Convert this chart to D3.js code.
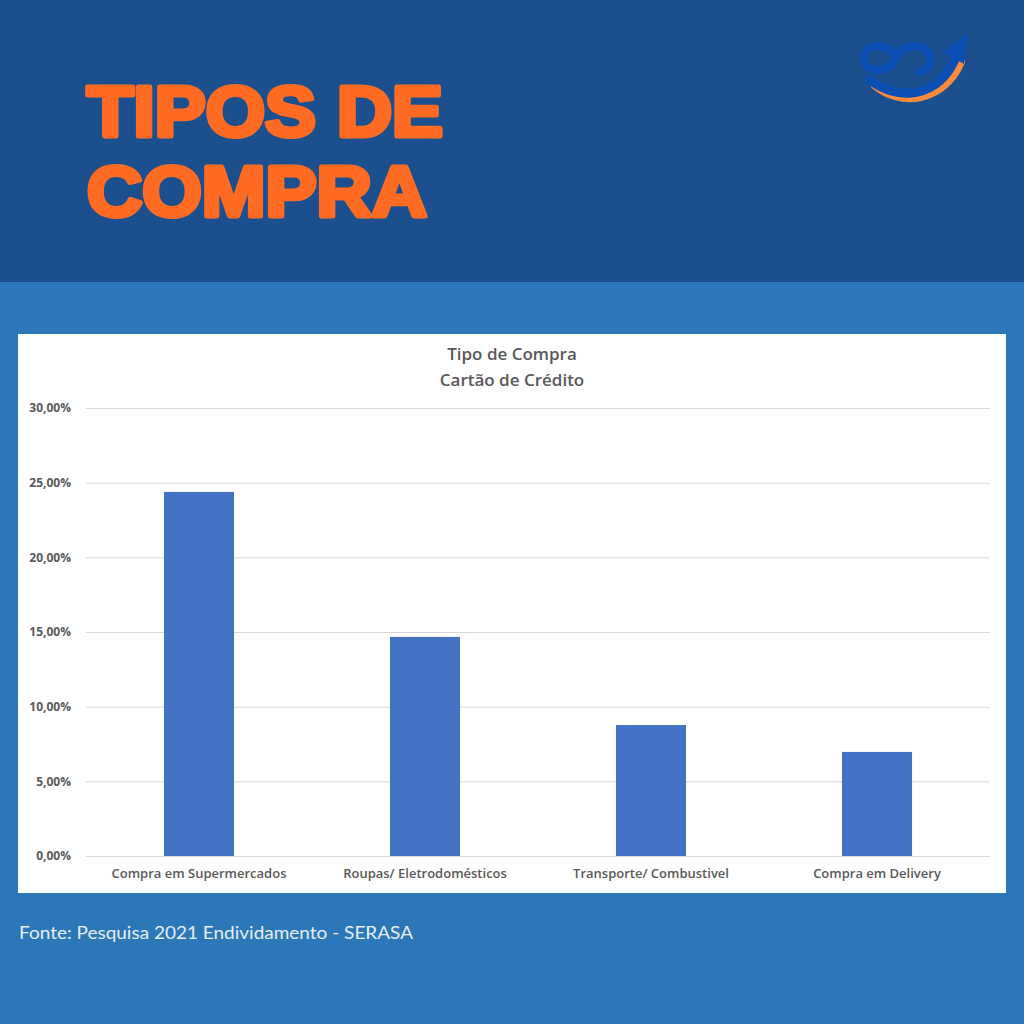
<!DOCTYPE html>
<html><head><meta charset="utf-8">
<script src="https://cdn.jsdelivr.net/npm/d3@7"></script>
<style>html,body{margin:0;padding:0;background:#2b77b8;}svg{display:block;}</style>
</head><body>
<script>
const categories = ["Compra em Supermercados", "Roupas/ Eletrodomésticos", "Transporte/ Combustivel", "Compra em Delivery"];
const values = [0.2438, 0.1467, 0.0877, 0.0697];
const yTicks = [0, 0.05, 0.10, 0.15, 0.20, 0.25, 0.30];
const headline = ["TIPOS DE", "COMPRA"];
const chartTitle = ["Tipo de Compra", "Cartão de Crédito"];
const source = "Fonte: Pesquisa 2021 Endividamento - SERASA";

const W = 1024, H = 1024;
const svg = d3.select("body").append("svg").attr("width", W).attr("height", H);

// backgrounds
svg.append("rect").attr("x",0).attr("y",0).attr("width",W).attr("height",H).attr("fill","#2b77b8");
svg.append("rect").attr("x",0).attr("y",0).attr("width",W).attr("height",282).attr("fill","#1c4f8e");

// headline
const hl = svg.append("g").attr("font-family","Liberation Sans").attr("font-weight",700).attr("fill","#ff6b22")
  .attr("stroke","#ff6b22").attr("stroke-width",5).attr("stroke-linejoin","round").attr("font-size",71);
hl.append("text").attr("x",87).attr("y",135.5).attr("textLength",356).attr("lengthAdjust","spacingAndGlyphs").text(headline[0]);
hl.append("text").attr("x",87).attr("y",215.5).attr("textLength",340).attr("lengthAdjust","spacingAndGlyphs").text(headline[1]);

// logo
const lg = svg.append("g");
lg.append("path").attr("d","M874,86 C900,108 944,104 962,62").attr("fill","none").attr("stroke","#ff8a3d").attr("stroke-width",6).attr("stroke-linecap","round");
lg.append("path").attr("d","M896,58 C890,42 864,42 864,58 C864,74 890,74 896,58 C902,42 928,42 930,58 C931,66 926,71 919,72")
  .attr("fill","none").attr("stroke","#0b4fb5").attr("stroke-width",8).attr("stroke-linecap","round");
lg.append("path").attr("d","M870,80 C898,102 940,98 956,56").attr("fill","none").attr("stroke","#0b4fb5").attr("stroke-width",9).attr("stroke-linecap","round");
lg.append("path").attr("d","M943,52 L968,33 L964,64 Z").attr("fill","#0b4fb5");

// chart panel
svg.append("rect").attr("x",18).attr("y",334).attr("width",988).attr("height",559).attr("fill","#ffffff");

const x = d3.scaleBand().domain(categories).range([86, 990]).paddingInner(0.69).paddingOuter(0.345);
const y = d3.scaleLinear().domain([0, 0.30]).range([856, 408]);

const fmt = v => d3.format(".2f")(v*100).replace(".", ",") + "%";

const yAxis = svg.append("g").attr("transform","translate(86,0)")
  .call(d3.axisLeft(y).tickValues(yTicks).tickSize(-904).tickFormat(fmt).tickPadding(15));
yAxis.select(".domain").remove();
yAxis.selectAll(".tick line").attr("stroke","#d9d9d9").attr("stroke-width",1);
yAxis.selectAll(".tick text").attr("font-family","Open Sans").attr("font-weight",700).attr("font-size",12).attr("fill","#595959");

svg.append("g").selectAll("rect").data(values).join("rect")
  .attr("x",(d,i)=>x(categories[i])).attr("width",x.bandwidth())
  .attr("y",d=>y(d)).attr("height",d=>y(0)-y(d)).attr("fill","#4472c4");

const xAxis = svg.append("g").attr("transform","translate(0,856)")
  .call(d3.axisBottom(x).tickSize(0).tickPadding(13));
xAxis.select(".domain").remove();
xAxis.selectAll(".tick text").attr("font-family","Open Sans").attr("font-weight",600).attr("font-size",13).attr("fill","#595959");

const tt = svg.append("g").attr("font-family","Open Sans").attr("font-weight",600).attr("font-size",17).attr("fill","#595959").attr("text-anchor","middle");
tt.append("text").attr("x",512).attr("y",360).text(chartTitle[0]);
tt.append("text").attr("x",512).attr("y",386).text(chartTitle[1]);

// source
svg.append("text").attr("x",19).attr("y",939).attr("font-family","Lato").attr("font-size",18).attr("textLength",394).attr("lengthAdjust","spacingAndGlyphs").attr("fill","#e8eef6").text(source);
</script>
</body></html>
